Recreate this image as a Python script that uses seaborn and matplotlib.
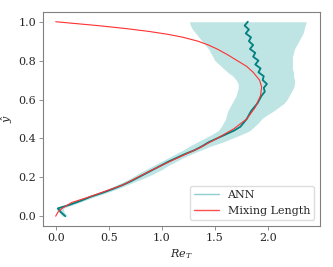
import matplotlib
matplotlib.use("Agg")
import matplotlib.pyplot as plt
import seaborn as sns
from matplotlib.lines import Line2D

# wall-normal coordinate
y_hat = [0.00, 0.02, 0.04, 0.06, 0.08, 0.10, 0.12, 0.14, 0.16, 0.18,
         0.20, 0.22, 0.24, 0.26, 0.28, 0.30, 0.32, 0.34, 0.36, 0.38,
         0.40, 0.42, 0.44, 0.46, 0.48, 0.50, 0.52, 0.54, 0.56, 0.58,
         0.60, 0.62, 0.64, 0.66, 0.68, 0.70, 0.72, 0.74, 0.76, 0.78,
         0.80, 0.82, 0.84, 0.86, 0.88, 0.90, 0.92, 0.94, 0.96, 0.98, 1.00]

# ANN prediction (mean) and its spread
ann_mean = [0.09, 0.05, 0.02, 0.14, 0.24, 0.33, 0.44, 0.54, 0.63, 0.71,
            0.78, 0.85, 0.92, 0.99, 1.06, 1.14, 1.22, 1.31, 1.38, 1.44,
            1.52, 1.60, 1.68, 1.74, 1.77, 1.80, 1.82, 1.84, 1.87, 1.90,
            1.92, 1.94, 1.97, 1.96, 1.99, 1.95, 1.96, 1.91, 1.93, 1.88,
            1.91, 1.86, 1.88, 1.83, 1.86, 1.82, 1.84, 1.79, 1.82, 1.78, 1.81]
ann_low = [0.06, 0.03, 0.00, 0.11, 0.21, 0.30, 0.40, 0.49, 0.57, 0.65,
           0.72, 0.78, 0.85, 0.92, 0.99, 1.06, 1.13, 1.20, 1.26, 1.33,
           1.40, 1.47, 1.53, 1.56, 1.58, 1.60, 1.61, 1.62, 1.64, 1.66,
           1.68, 1.70, 1.71, 1.72, 1.72, 1.70, 1.67, 1.62, 1.58, 1.54,
           1.50, 1.48, 1.46, 1.44, 1.41, 1.38, 1.35, 1.32, 1.29, 1.27, 1.26]
ann_high = [0.11, 0.08, 0.07, 0.17, 0.27, 0.37, 0.48, 0.58, 0.67, 0.76,
            0.85, 0.93, 1.00, 1.06, 1.13, 1.20, 1.28, 1.37, 1.46, 1.57,
            1.66, 1.75, 1.83, 1.87, 1.91, 1.94, 1.99, 2.05, 2.10, 2.15,
            2.18, 2.20, 2.22, 2.24, 2.25, 2.25, 2.24, 2.24, 2.23, 2.23,
            2.23, 2.23, 2.24, 2.25, 2.27, 2.29, 2.31, 2.33, 2.34, 2.35, 2.36]

# mixing length model
ml_y = [0.0, 0.02, 0.04, 0.07, 0.10, 0.16, 0.23, 0.28, 0.35, 0.40, 0.45, 0.50,
        0.56, 0.62, 0.665, 0.70, 0.74, 0.77, 0.80, 0.83, 0.86, 0.88, 0.90,
        0.92, 0.935, 0.95, 0.965, 0.98, 0.99, 1.0]
ml_x = [0.0, 0.02, 0.06, 0.15, 0.32, 0.63, 0.88, 1.07, 1.35, 1.52, 1.68, 1.80,
        1.88, 1.93, 1.94, 1.92, 1.86, 1.80, 1.71, 1.62, 1.52, 1.44, 1.34,
        1.20, 1.06, 0.88, 0.66, 0.40, 0.20, 0.0]

sns.set_style("white")
plt.rcParams['font.family'] = ['DejaVu Serif']
plt.rcParams['mathtext.fontset'] = 'dejavuserif'

f = plt.figure(figsize=(3.33, 2.67), dpi=100)
ax = f.add_axes([0.129, 0.154, 0.832, 0.801])

ax.fill_betweenx(y_hat, ann_low, ann_high, color='#b4e0e0', alpha=0.85, lw=0)
sns.lineplot(x=ann_mean, y=y_hat, sort=False, estimator=None, color='#008080',
             lw=1.3, ax=ax)
sns.lineplot(x=ml_x, y=ml_y, sort=False, estimator=None, color='#ff3030',
             lw=0.8, ax=ax)

ax.set_xlim(-0.12, 2.49)
ax.set_ylim(-0.05, 1.05)
ax.set_xticks([0.0, 0.5, 1.0, 1.5, 2.0])
ax.set_yticks([0.0, 0.2, 0.4, 0.6, 0.8, 1.0])
ax.set_xlabel(r'$Re_T$', fontsize=8)
ax.set_ylabel(r'$\hat{y}$', fontsize=8)
ax.xaxis.set_label_coords(0.5, -0.1)
ax.yaxis.set_label_coords(-0.1, 0.5)
ax.tick_params(labelsize=8, length=3, width=0.6, color='#808080', direction='out',
               bottom=True, left=True, pad=2)
for s in ax.spines.values():
    s.set_color('#808080')
    s.set_linewidth(0.8)

handles = [Line2D([], [], color='#8fcfcf', lw=1.0),
           Line2D([], [], color='#ff5050', lw=1.0)]
ax.legend(handles, ['ANN', 'Mixing Length'], loc='lower right', fontsize=8,
          frameon=True, edgecolor='#dddddd', framealpha=1, handlelength=2.2)

f.savefig('out.png', dpi=100)
